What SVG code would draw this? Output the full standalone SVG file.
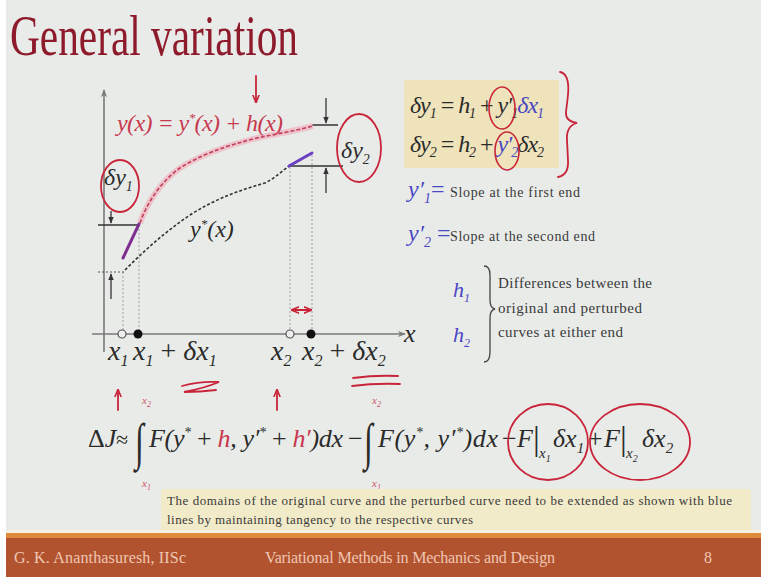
<svg xmlns="http://www.w3.org/2000/svg" width="761" height="577" viewBox="0 0 761 577">
<defs>
<style>
text{font-family:"Liberation Serif","Times New Roman",serif}
.m{font-style:italic}
.k{fill:#2b2b2b}
.red{fill:#c8384f}
.pink{fill:#d0566a}
.blu{fill:#4b47c4}
.t{fill:#3a3a3a}
.ft{fill:#f0c6b2}
.axis{stroke:#7a7a7a;stroke-width:1.6;fill:none}
.guide{stroke:#a0a0a0;stroke-width:1;stroke-dasharray:2 2;fill:none}
.dim{stroke:#333;stroke-width:1.3;fill:none}
.ink{stroke:#c9253a;stroke-width:1.8;fill:none;stroke-linecap:round}
.ext{stroke-width:3;stroke-linecap:round;fill:none}
</style>
<marker id="ak" viewBox="0 0 10 10" refX="9" refY="5" markerWidth="7" markerHeight="7" orient="auto-start-reverse" markerUnits="userSpaceOnUse"><path d="M0,1 L10,5 L0,9 z" fill="#333"/></marker>
<marker id="ag" viewBox="0 0 10 10" refX="9" refY="5" markerWidth="8" markerHeight="8" orient="auto-start-reverse" markerUnits="userSpaceOnUse"><path d="M0,1 L10,5 L0,9 L3,5 z" fill="#7a7a7a"/></marker>
<marker id="ar" viewBox="0 0 10 10" refX="9" refY="5" markerWidth="8" markerHeight="8" orient="auto-start-reverse" markerUnits="userSpaceOnUse"><path d="M0,1 L10,5 L0,9" fill="none" stroke="#c9253a" stroke-width="2"/></marker>
</defs>

<!-- background -->
<rect width="761" height="577" fill="#ffffff"/>
<rect x="6" y="0" width="755" height="577" fill="#e9ebe9"/>

<!-- title -->
<text id="title" x="10" y="55" font-size="56" fill="#8e1b2c" textLength="288" lengthAdjust="spacingAndGlyphs">General variation</text>

<!-- graph -->
<g id="graph">
  <path class="axis" d="M104,352 V90" marker-end="url(#ag)"/>
  <path class="axis" d="M92,334 H405" marker-end="url(#ag)"/>
  <text class="m k" x="404" y="342" font-size="26">x</text>

  <path class="guide" d="M123,272 V334 M139,225 V334 M290,167 V334 M312,155 V334"/>
  <path class="guide" d="M98,272 H125" style="stroke:#555"/>
  <path class="dim" d="M98,225 H139 M312,125 H338 M288,166 H343"/>
  <path class="dim" d="M111,211 V223" marker-end="url(#ak)"/>
  <path class="dim" d="M111,299 V274" marker-end="url(#ak)"/>
  <path class="dim" d="M326,98 V123" marker-end="url(#ak)"/>
  <path class="dim" d="M326,193 V168" marker-end="url(#ak)"/>

  <!-- perturbed curve -->
  <path d="M140,223 C146,205 160,182 180,168 C200,155 225,146 257,138 C275,134 295,131 313,126" fill="none" stroke="#f1b2bd" stroke-width="6" opacity="0.7"/>
  <path d="M140,223 C146,205 160,182 180,168 C200,155 225,146 257,138 C275,134 295,131 313,126" fill="none" stroke="#c0405a" stroke-width="1.6" stroke-dasharray="4 2"/>
  <!-- original curve -->
  <path d="M125,270 C145,250 165,232 190,215 C215,199 240,190 265,183 C275,178 282,171 289,166" fill="none" stroke="#333" stroke-width="1.6" stroke-dasharray="3 2"/>
  <!-- extensions -->
  <path class="ext" d="M123,258 L139,224" stroke="#7d2e8e"/>
  <path class="ext" d="M289,166 L312,153" stroke="#6a3fc0"/>

  <circle cx="122" cy="334" r="4" fill="#eeeeee" stroke="#555" stroke-width="1.2"/>
  <circle cx="138" cy="334" r="4.5" fill="#111"/>
  <circle cx="290" cy="334" r="4" fill="#eeeeee" stroke="#555" stroke-width="1.2"/>
  <circle cx="311" cy="334" r="4.5" fill="#111"/>

  <text class="m red" x="117" y="131" font-size="24" textLength="166">y(x) = y<tspan dy="-9" font-size="13">*</tspan><tspan dy="9">(x) + h(x)</tspan></text>
  <text class="m k" x="190" y="237" font-size="24">y<tspan dy="-9" font-size="13">*</tspan><tspan dy="9">(x)</tspan></text>

  <ellipse cx="120" cy="186" rx="19" ry="26" fill="none" stroke="#c9253a" stroke-width="1.8"/>
  <text class="m k" x="104" y="185" font-size="24">δy<tspan dy="6" font-size="14">1</tspan></text>
  <ellipse cx="359" cy="148" rx="22" ry="34" fill="none" stroke="#c9253a" stroke-width="1.8"/>
  <text class="m k" x="341" y="158" font-size="24">δy<tspan dy="6" font-size="14">2</tspan></text>

  <text class="m k" x="108" y="360" font-size="28">x<tspan dy="6" font-size="16">1</tspan></text>
  <text class="m k" x="133" y="360" font-size="28">x<tspan dy="6" font-size="16">1</tspan><tspan dy="-6" font-style="normal"> + </tspan>δx<tspan dy="6" font-size="16">1</tspan></text>
  <text class="m k" x="271" y="360" font-size="28">x<tspan dy="6" font-size="16">2</tspan></text>
  <text class="m k" x="302" y="360" font-size="28">x<tspan dy="6" font-size="16">2</tspan><tspan dy="-6" font-style="normal"> + </tspan>δx<tspan dy="6" font-size="16">2</tspan></text>
</g>

<!-- hand annotations -->
<g id="annotations">
  <path class="ink" d="M256,76 V102" marker-end="url(#ar)"/>
  <path class="ink" d="M118,410 V390" marker-end="url(#ar)"/>
  <path class="ink" d="M277,410 V390" marker-end="url(#ar)"/>
  <path class="ink" d="M182,386 Q200,381 219,382 Q205,388 184,392 Q200,392 216,390"/>
  <path class="ink" d="M353,378 Q375,375 398,376 M352,386 Q375,383 400,384"/>
  <path class="ink" d="M292,310 H311" marker-start="url(#ar)" marker-end="url(#ar)"/>
</g>

<!-- relations box -->
<g id="relations">
  <rect x="404" y="80" width="155" height="88" fill="#efe3bb"/>
  <text class="m k" x="410" y="113" font-size="24" textLength="134">δy<tspan dy="5" font-size="14">1</tspan><tspan dy="-5" font-style="normal"> = </tspan>h<tspan dy="5" font-size="14">1</tspan><tspan dy="-5" font-style="normal"> + </tspan>y′<tspan dy="5" font-size="14">1</tspan><tspan dy="-5" class="blu">δx</tspan><tspan dy="5" font-size="14" class="blu">1</tspan></text>
  <text class="m k" x="410" y="152" font-size="24" textLength="134">δy<tspan dy="5" font-size="14">2</tspan><tspan dy="-5" font-style="normal"> = </tspan>h<tspan dy="5" font-size="14">2</tspan><tspan dy="-5" font-style="normal"> + </tspan><tspan class="blu">y′</tspan><tspan dy="5" font-size="14" class="blu">2</tspan><tspan dy="-5">δx</tspan><tspan dy="5" font-size="14">2</tspan></text>
  <ellipse cx="502" cy="108" rx="13" ry="21" fill="none" stroke="#c9253a" stroke-width="1.6"/>
  <ellipse cx="507" cy="151" rx="12" ry="19" fill="none" stroke="#c9253a" stroke-width="1.6"/>
  <path class="ink" d="M560,72 Q570,74 568,95 L566,112 Q565,121 577,123 Q566,126 567,140 L568,160 Q569,175 558,177"/>
</g>

<!-- slope definitions -->
<g id="slopes">
  <text class="m blu" x="408" y="197" font-size="24">y′<tspan dy="6" font-size="14">1</tspan><tspan dy="-6" font-style="normal">=</tspan></text>
  <text class="t" x="450" y="197" font-size="14" textLength="130">Slope at the first end</text>
  <text class="m blu" x="408" y="241" font-size="24">y′<tspan dy="6" font-size="14">2</tspan><tspan dy="-6" font-style="normal"> =</tspan></text>
  <text class="t" x="450" y="241" font-size="14" textLength="145">Slope at the second end</text>
</g>

<g id="differences">
  <text class="m blu" x="453" y="297" font-size="22">h<tspan dy="5" font-size="12">1</tspan></text>
  <text class="m blu" x="453" y="342" font-size="22">h<tspan dy="5" font-size="12">2</tspan></text>
  <path d="M484,266 Q490,266 490,275 L490,300 Q490,308 495,309 Q490,310 490,318 L490,352 Q490,362 484,362" fill="none" stroke="#444" stroke-width="1.3"/>
  <text class="t" x="498" y="288" font-size="15" textLength="154">Differences between the</text>
  <text class="t" x="498" y="313" font-size="15" textLength="144">original and perturbed</text>
  <text class="t" x="498" y="337" font-size="15" textLength="125">curves at either end</text>
</g>

<!-- equation -->
<g id="equation">
  <text class="k" x="88" y="447" font-size="26">Δ<tspan class="m">J</tspan></text>
  <text class="k" x="116" y="447" font-size="22">≈</text>
  <text class="k" transform="translate(135,459) scale(0.8,1.28)" font-size="40">∫</text>
  <text class="m pink" x="142" y="404" font-size="11">x<tspan dy="3" font-size="8">2</tspan></text>
  <text class="m pink" x="142" y="487" font-size="11">x<tspan dy="3" font-size="8">1</tspan></text>
  <text class="m k" x="149" y="447" font-size="26" textLength="194">F(y<tspan dy="-10" font-size="14">*</tspan><tspan dy="10" font-style="normal"> + </tspan><tspan class="red">h</tspan>, y′<tspan dy="-10" font-size="14">*</tspan><tspan dy="10" font-style="normal"> + </tspan><tspan class="red">h′</tspan>)dx</text>
  <text class="k" x="348" y="447" font-size="26">−</text>
  <text class="k" transform="translate(364,459) scale(0.8,1.28)" font-size="40">∫</text>
  <text class="m pink" x="372" y="404" font-size="11">x<tspan dy="3" font-size="8">2</tspan></text>
  <text class="m pink" x="372" y="487" font-size="11">x<tspan dy="3" font-size="8">1</tspan></text>
  <text class="m k" x="378" y="447" font-size="26" textLength="120">F(y<tspan dy="-10" font-size="14">*</tspan><tspan dy="10">, y′</tspan><tspan dy="-10" font-size="14">*</tspan><tspan dy="10">)dx</tspan></text>
  <text class="k" x="502" y="447" font-size="26">−</text>
  <text class="m k" x="517" y="447" font-size="26">F</text>
  <text class="k" x="533" y="450" font-size="34">|</text>
  <text class="m k" x="539" y="458" font-size="15">x<tspan dy="4" font-size="10">1</tspan></text>
  <text class="m k" x="553" y="447" font-size="26">δx<tspan dy="6" font-size="15">1</tspan></text>
  <text class="k" x="588" y="447" font-size="26">+</text>
  <text class="m k" x="604" y="447" font-size="26">F</text>
  <text class="k" x="620" y="450" font-size="34">|</text>
  <text class="m k" x="626" y="458" font-size="15">x<tspan dy="4" font-size="10">2</tspan></text>
  <text class="m k" x="642" y="447" font-size="26">δx<tspan dy="6" font-size="15">2</tspan></text>
  <ellipse cx="548" cy="442" rx="40" ry="38" fill="none" stroke="#c9253a" stroke-width="1.8"/>
  <ellipse cx="640" cy="442" rx="50" ry="38" fill="none" stroke="#c9253a" stroke-width="1.8"/>
</g>

<!-- note -->
<g id="note">
  <rect x="161" y="489" width="590" height="44" fill="#f2ebc9"/>
  <text class="t" x="167" y="505" font-size="13" textLength="565">The domains of the original curve and the perturbed curve need to be extended as shown with blue</text>
  <text class="t" x="167" y="524" font-size="13" textLength="306">lines by maintaining tangency to the respective curves</text>
</g>

<!-- footer -->
<g id="footer">
  <rect x="6" y="530" width="755" height="3" fill="#f4f1e4"/>
  <rect x="6" y="533" width="755" height="5" fill="#df8b3c"/>
  <rect x="6" y="538" width="755" height="39" fill="#b2532f"/>
  <text class="ft" x="14" y="563" font-size="16" textLength="172">G. K. Ananthasuresh, IISc</text>
  <text class="ft" x="265" y="563" font-size="16" textLength="290">Variational Methods in Mechanics and Design</text>
  <text class="ft" x="704" y="563" font-size="16">8</text>
</g>
</svg>
